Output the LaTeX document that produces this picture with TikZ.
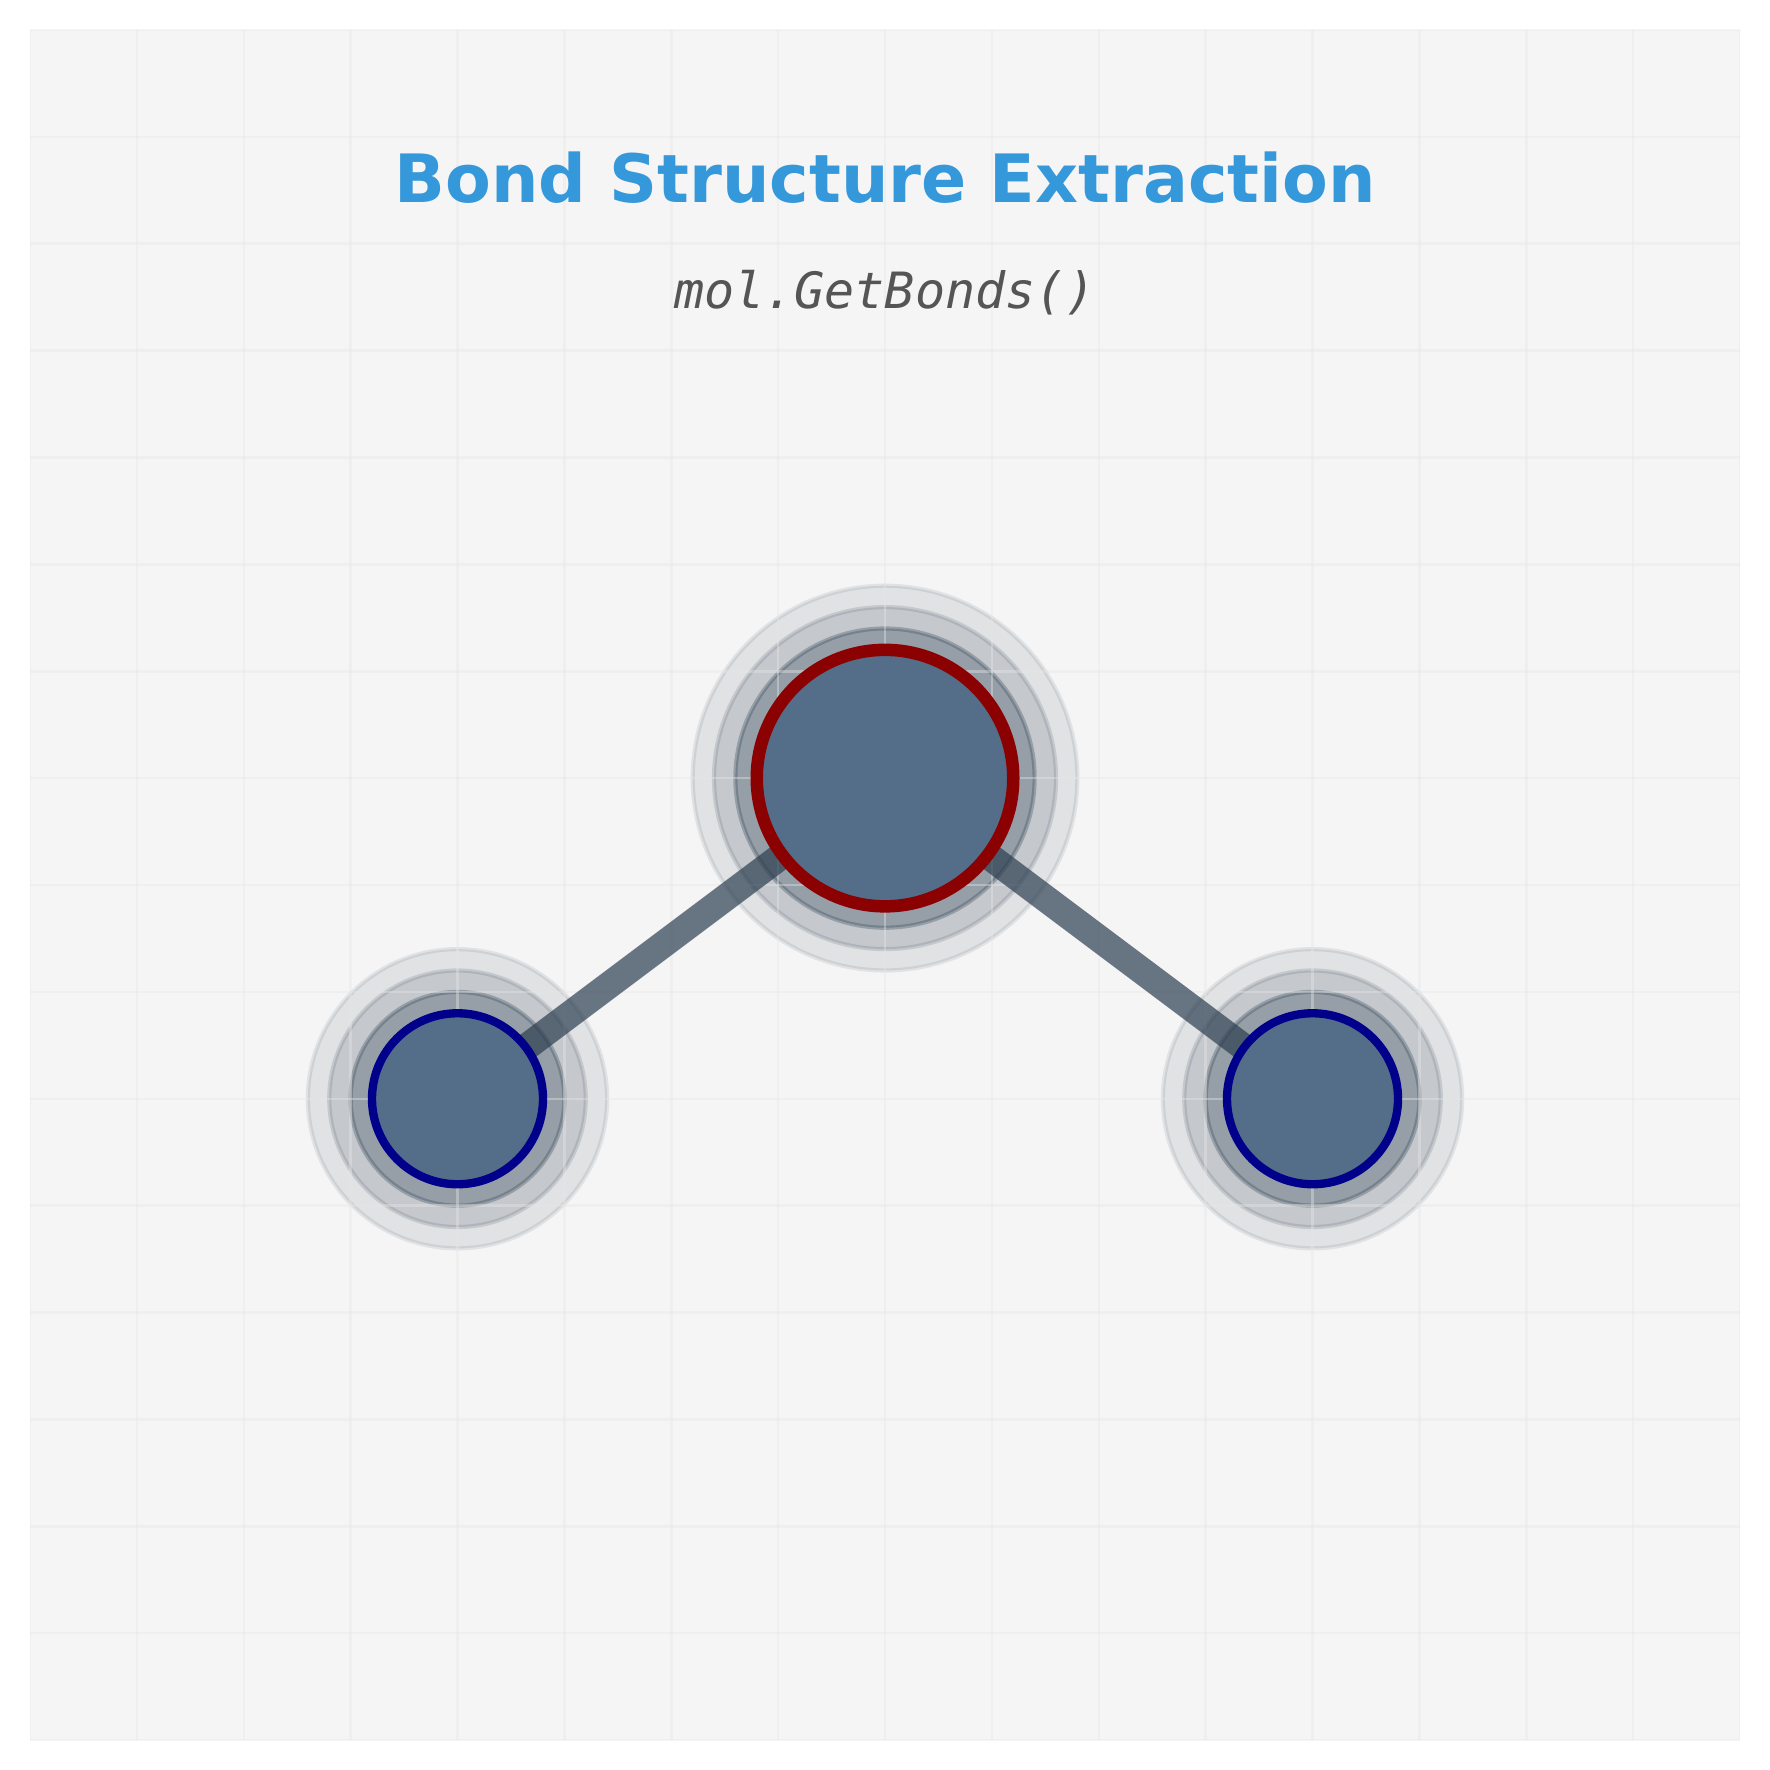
\documentclass[tikz,border=0pt]{standalone}
\usepackage{fontspec}
\setmainfont{DejaVu Sans}
\newfontfamily\monofam{DejaVu Sans Mono}
\definecolor{panelbg}{HTML}{F5F5F5}
\definecolor{gridc}{HTML}{E6E6E6}
\definecolor{ink}{HTML}{2C3E50}
\definecolor{atomfill}{HTML}{546E8A}
\definecolor{redring}{HTML}{8B0000}
\definecolor{bluering}{HTML}{00008B}
\definecolor{titlec}{HTML}{3498DB}
\definecolor{subc}{HTML}{555555}
\pgfdeclarelayer{under}
\pgfsetlayers{under,main}
\tikzset{
  x=0.24pt,y=-0.24pt,
  atom/.style={circle,fill=atomfill,inner sep=0pt,outer sep=0pt},
  bigatom/.style={atom,draw=redring,line width=3pt,minimum size=61.56pt},
  smallatom/.style={atom,draw=bluering,line width=2pt,minimum size=41.04pt},
  halo/.style={fill=ink,draw=ink,line width=1pt,opacity=#1},
  bond/.style={draw=ink,line width=6.5pt,opacity=0.7},
  gridline/.style={draw=gridc,line width=0.6pt,opacity=0.4},
}
\begin{document}
\begin{tikzpicture}
\useasboundingbox (0,0) rectangle (1770,1770);
\node[bigatom] (ca) at (885,778.1) {};
\node[smallatom] (la) at (457.5,1098.75) {};
\node[smallatom] (ra) at (1312.5,1098.75) {};
\node[font=\bfseries\fontsize{16pt}{18pt}\selectfont,text=titlec,inner sep=0pt,anchor=base] (title) at (885,203) {Bond Structure Extraction};
\node[font=\monofam\itshape\fontsize{12pt}{14pt}\selectfont,text=subc,inner sep=0pt,anchor=base] (sub) at (885,308.5) {mol.GetBonds()};
\begin{pgfonlayer}{under}
  \fill[panelbg] (30,30) rectangle (1740,1740);
  % halos
  \foreach \aname/\rad in {ca/128.25,la/85.5,ra/85.5}{
    \path[halo=0.1] (\aname.center) circle[radius=\rad+64.125];
    \path[halo=0.15] (\aname.center) circle[radius=\rad+42.75];
    \path[halo=0.3] (\aname.center) circle[radius=\rad+21.375];
  }
  % grid
  \begin{scope}
    \clip (30,30) rectangle (1740,1740);
    \foreach \k in {0,...,16}{
      \pgfmathsetmacro{\gp}{30+106.875*\k}
      \path[gridline] (\gp,30) -- (\gp,1740);
      \path[gridline] (30,\gp) -- (1740,\gp);
    }
  \end{scope}
  % bonds
  \path[bond] (ca.center) -- (la.center);
  \path[bond] (ca.center) -- (ra.center);
\end{pgfonlayer}
\end{tikzpicture}
\end{document}
